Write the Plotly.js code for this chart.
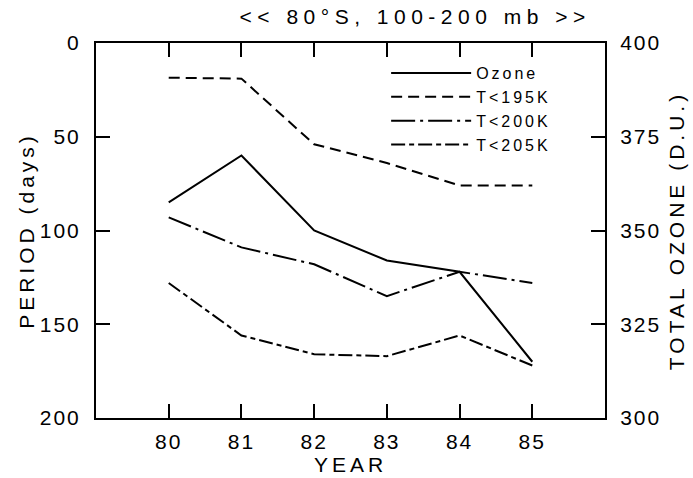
<!DOCTYPE html>
<html>
<head>
<meta charset="utf-8">
<script src="https://cdn.plot.ly/plotly-3.0.1.min.js"></script>
<style>
html,body{margin:0;padding:0;background:#fff;}
#chart{width:693px;height:478px;}
.main-svg text{letter-spacing:2px;}
.main-svg .gtitle{letter-spacing:5.5px;}
.main-svg .g-ytitle text, .main-svg .g-y2title text, .main-svg .g-xtitle text{letter-spacing:4px;}
.main-svg .legend text{letter-spacing:3px;}
.main-svg .legend .scrollbox{clip-path:none !important;}
</style>
</head>
<body>
<div id="chart"></div>
<script>
// Data
const years = [80, 81, 82, 83, 84, 85];
const ozone = [357.5, 370, 350, 342, 339, 315];      // total ozone, D.U. (right axis)
const t195  = [18.5, 19, 54, 64, 76, 76];           // period T<195K, days
const t200  = [93, 109, 118, 135, 122, 128];        // period T<200K, days
const t205  = [128, 156, 166, 167, 156, 172];       // period T<205K, days
const seriesNames = ['Ozone', 'T<195K', 'T<200K', 'T<205K'];
const periodTicks = [0, 50, 100, 150, 200];
const ozoneTicks = [300, 325, 350, 375, 400];
const titleText = '<< 80°S, 100-200 mb >>';

const FONT = 'Liberation Sans, Arial, sans-serif';
const lw = 2;

const traces = [
  {x: years, y: ozone, name: seriesNames[0], yaxis: 'y2', mode: 'lines',
   line: {color: '#000', width: lw, dash: 'solid'}},
  {x: years, y: t195, name: seriesNames[1], yaxis: 'y', mode: 'lines',
   line: {color: '#000', width: lw, dash: '11px,6px'}},
  {x: years, y: t200, name: seriesNames[2], yaxis: 'y', mode: 'lines',
   line: {color: '#000', width: lw, dash: '24px,5px,3px,5px'}},
  {x: years, y: t205, name: seriesNames[3], yaxis: 'y', mode: 'lines',
   line: {color: '#000', width: lw, dash: '14px,4px,5px,4px'}}
];

const axisCommon = {
  showline: true, linecolor: '#000', linewidth: 2,
  ticks: 'inside', ticklen: 14, tickwidth: 2, tickcolor: '#000',
  showgrid: false, zeroline: false,
  tickfont: {family: FONT, size: 21, color: '#000'}
};

const layout = {
  width: 693, height: 478,
  margin: {l: 96, r: 88, t: 43, b: 60},
  paper_bgcolor: '#fff', plot_bgcolor: '#fff',
  font: {family: FONT, color: '#000'},
  showlegend: true,
  title: {
    text: titleText,
    font: {family: FONT, size: 21, color: '#000'},
    xref: 'paper', x: 0.627, xanchor: 'center',
    yref: 'container', y: 1 - 17/478, yanchor: 'middle'
  },
  xaxis: Object.assign({}, axisCommon, {
    range: [79, 86], tickvals: years, ticktext: years.map(String),
    mirror: 'ticks', ticklabelstandoff: 4,
    title: {text: 'YEAR', font: {family: FONT, size: 21, color: '#000'}, standoff: 2}
  }),
  yaxis: Object.assign({}, axisCommon, {
    range: [200, 0], tickvals: periodTicks, ticktext: periodTicks.map(String),
    ticklabelstandoff: 9,
    title: {text: 'PERIOD (days)', font: {family: FONT, size: 21, color: '#000'}, standoff: 5}
  }),
  yaxis2: Object.assign({}, axisCommon, {
    range: [300, 400], tickvals: ozoneTicks, ticktext: ozoneTicks.map(String),
    overlaying: 'y', side: 'right', ticklabelstandoff: 9,
    title: {text: 'TOTAL OZONE (D.U.)', font: {family: FONT, size: 21, color: '#000'}, standoff: 15}
  }),
  legend: {
    x: 0.57, xanchor: 'left', y: 0.965, yanchor: 'top',
    bgcolor: 'rgba(0,0,0,0)', borderwidth: 0,
    font: {family: FONT, size: 16, color: '#000'},
    itemwidth: 80, tracegroupgap: 0
  }
};

Plotly.newPlot('chart', traces, layout, {staticPlot: true, displayModeBar: false});
</script>
</body>
</html>
